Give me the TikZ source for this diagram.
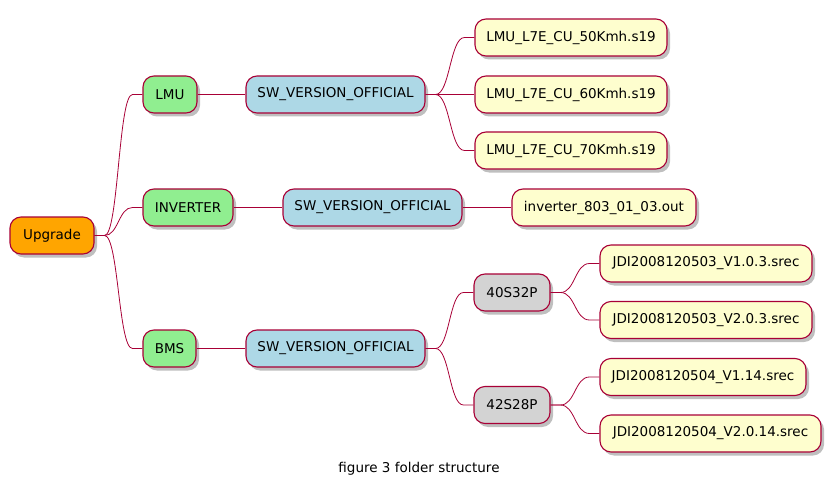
\documentclass[tikz,border=0pt]{standalone}
\usepackage{fontspec}
\setmainfont{DejaVu Sans}
\usetikzlibrary{calc,shadows}
\definecolor{bord}{HTML}{A80036}
\definecolor{cOrange}{HTML}{FFA500}
\definecolor{cGreen}{HTML}{90EE90}
\definecolor{cBlue}{HTML}{ADD8E6}
\definecolor{cGray}{HTML}{D3D3D3}
\definecolor{cYellow}{HTML}{FEFECE}
\tikzset{
  mm/.style={draw=bord, line width=1.1pt, rounded corners=11pt, minimum height=37pt,
    inner xsep=2pt, inner ysep=0pt, align=center,
    font=\fontsize{13.5}{15}\selectfont,
    drop shadow={shadow xshift=3pt, shadow yshift=-3.5pt, fill=black, opacity=0.25}},
  edge/.style={draw=bord, line width=0.8pt},
}
\newcommand{\mmlink}[2]{%
  \draw[edge] let \p1=(#1.east), \p2=(#2.west) in
    (\p1) -- ({\x1+10pt},\y1) .. controls ({0.5*\x1+0.5*\x2},\y1) and ({0.5*\x1+0.5*\x2},\y2) .. ({\x2-10pt},\y2) -- (\p2);}
\begin{document}
\begin{tikzpicture}[x=1pt,y=1pt]
\useasboundingbox (0,0) rectangle (838,-492);
\node[mm, fill=cOrange, minimum width=84pt] (up) at (52,-235.5) {Upgrade};
\node[mm, fill=cGreen, minimum width=54pt] (lmu) at (170,-94.5) {LMU};
\node[mm, fill=cGreen, minimum width=90pt] (inv) at (188,-207.5) {INVERTER};
\node[mm, fill=cGreen, minimum width=53pt] (bms) at (169.5,-348.5) {BMS};
\node[mm, fill=cBlue, minimum width=179pt] (sw1) at (335.5,-94.5) {SW\_VERSION\_OFFICIAL};
\node[mm, fill=cBlue, minimum width=179pt] (sw2) at (372.5,-207.5) {SW\_VERSION\_OFFICIAL};
\node[mm, fill=cBlue, minimum width=179pt] (sw3) at (335.5,-348.5) {SW\_VERSION\_OFFICIAL};
\node[mm, fill=cYellow, minimum width=192pt] (l50) at (571,-37.5) {LMU\_L7E\_CU\_50Kmh.s19};
\node[mm, fill=cYellow, minimum width=192pt] (l60) at (571,-94.5) {LMU\_L7E\_CU\_60Kmh.s19};
\node[mm, fill=cYellow, minimum width=192pt] (l70) at (571,-150.5) {LMU\_L7E\_CU\_70Kmh.s19};
\node[mm, fill=cYellow, minimum width=184pt] (io) at (604,-207.5) {inverter\_803\_01\_03.out};
\node[mm, fill=cGray, minimum width=76pt] (p40) at (512,-292.5) {40S32P};
\node[mm, fill=cGray, minimum width=76pt] (p42) at (512,-405) {42S28P};
\node[mm, fill=cYellow, minimum width=212pt] (j1) at (706,-263.5) {JDI2008120503\_V1.0.3.srec};
\node[mm, fill=cYellow, minimum width=212pt] (j2) at (706,-320) {JDI2008120503\_V2.0.3.srec};
\node[mm, fill=cYellow, minimum width=206pt] (j3) at (703,-377) {JDI2008120504\_V1.14.srec};
\node[mm, fill=cYellow, minimum width=221pt] (j4) at (710.5,-433.5) {JDI2008120504\_V2.0.14.srec};
\mmlink{up}{lmu}
\mmlink{up}{inv}
\mmlink{up}{bms}
\mmlink{lmu}{sw1}
\mmlink{inv}{sw2}
\mmlink{bms}{sw3}
\mmlink{sw1}{l50}
\mmlink{sw1}{l60}
\mmlink{sw1}{l70}
\mmlink{sw2}{io}
\mmlink{sw3}{p40}
\mmlink{sw3}{p42}
\mmlink{p40}{j1}
\mmlink{p40}{j2}
\mmlink{p42}{j3}
\mmlink{p42}{j4}
\node[font=\fontsize{13.5}{15}\selectfont] (cap) at (419,-469) {figure 3 folder structure};
\end{tikzpicture}
\end{document}
